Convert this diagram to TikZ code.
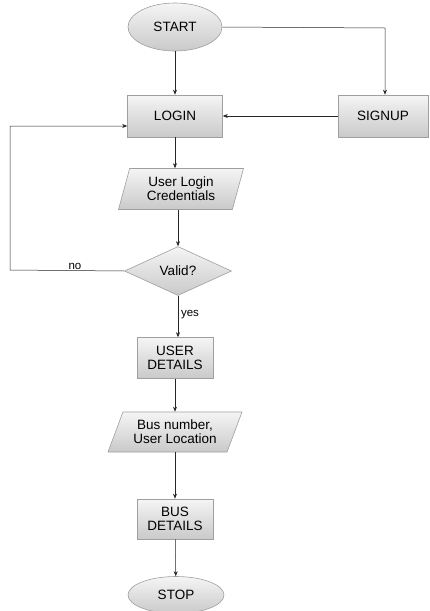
\documentclass[tikz,border=0pt]{standalone}
\usepackage{fontspec}
\setmainfont{Liberation Sans}
\usetikzlibrary{shapes.geometric,arrows.meta}
\begin{document}
\begin{tikzpicture}[x=1pt,y=-1pt,
  shaded/.style={top color=gray!8,bottom color=gray!42,draw=gray!75,line width=0.6pt,
    font=\fontsize{13.5}{14}\selectfont,align=center,inner sep=0pt},
  term/.style={shaded,ellipse,minimum width=94,minimum height=48},
  proc/.style={shaded,rectangle,minimum width=95,minimum height=42},
  io/.style={shaded,trapezium,trapezium stretches body,minimum height=41},
  decision/.style={shaded,diamond,minimum width=107,minimum height=49},
  flow/.style={draw=black!85,line width=0.5pt,-{Stealth[length=5pt,width=4pt]}},
  lbl/.style={font=\fontsize{11.5}{12}\selectfont,inner sep=1pt}]
\useasboundingbox (0,0) rectangle (429,611);

\node[term] (start) at (175,27) {START};
\node[proc] (login) at (175,116) {LOGIN};
\node[proc,minimum width=90] (signup) at (383,116) {SIGNUP};
\node[io,minimum width=125,trapezium left angle=65,trapezium right angle=115] (cred) at (181,189) {User Login\\Credentials};
\node[decision] (valid) at (178,271) {Valid?};
\node[proc,minimum width=76,minimum height=41] (user) at (175,358) {USER\\DETAILS};
\node[io,minimum width=134,minimum height=40,trapezium left angle=58,trapezium right angle=122] (bus) at (175,432) {Bus number,\\User Location};
\node[proc,minimum width=76,minimum height=40] (busd) at (175,519) {BUS\\DETAILS};
\node[term,minimum width=96,minimum height=37] (stop) at (176,595) {STOP};

\coordinate (c1) at (385,28);
\coordinate (c2) at (10,270);
\coordinate (c3) at (10,126);

\draw[flow] (start) -- (login);
\draw[flow] (start.east) -- (c1) -- (signup.north -| c1);
\draw[flow] (signup.west) -- (login.east);
\draw[flow] (login.south) -- (cred.north -| login.south);
\draw[flow] (cred.south -| valid.north) -- (valid.north);
\draw[flow] (valid.west) -- (c2) -- (c3) -- (login.west |- c3);
\draw[flow] (valid.south) -- (user.north -| valid.south);
\draw[flow] (user.south) -- (bus.north -| user.south);
\draw[flow] (bus.south -| busd.north) -- (busd.north);
\draw[flow] (busd) -- (stop);

\node[lbl] (nolbl) at (75,266) {no};
\node[lbl] (yeslbl) at (190,315) {yes};
\end{tikzpicture}
\end{document}
